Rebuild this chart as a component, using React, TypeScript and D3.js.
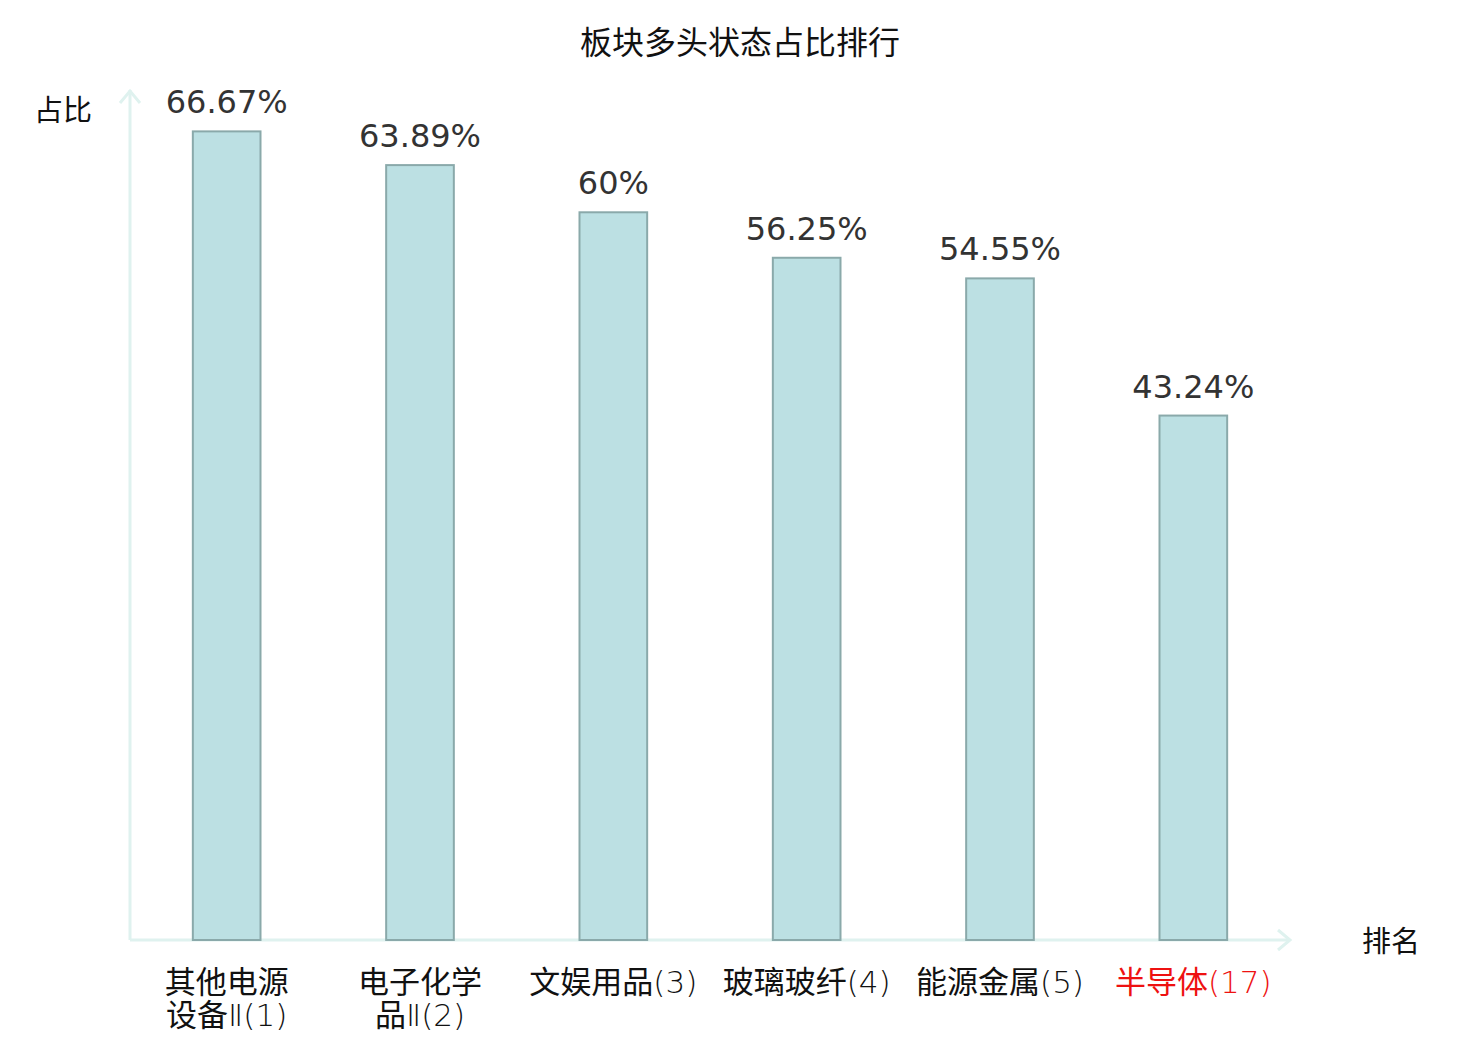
import React, {useEffect, useRef} from 'react';
import * as d3 from 'd3';

const title = '板块多头状态占比排行';
const categories = ['其他电源设备Ⅱ', '电子化学品Ⅱ', '文娱用品', '玻璃玻纤', '能源金属', '半导体'];
const ranks = [1, 2, 3, 4, 5, 17];
const ratios = [66.67, 63.89, 60, 56.25, 54.55, 43.24];
const highlight = '半导体';
const yName = '占比';
const xName = '排名';

const W = 1480;
const H = 1040;
const cjk = '"Noto Sans CJK SC", "Noto Sans", sans-serif';
const latin = '"DejaVu Sans", sans-serif';

// split a line into runs of CJK and non-CJK characters
const runs = (s: string) => s.match(/[\u4e00-\u9fff]+|[^\u4e00-\u9fff]+/g) || [];

const App = () => {
  const svgRef = useRef<SVGSVGElement>(null);

  useEffect(() => {
    const margin = {top: 91, right: 190, bottom: 100, left: 130};
    const svg = d3.select(svgRef.current);
    svg.selectAll('*').remove();

    const x = d3.scaleBand<string>()
      .domain(categories)
      .range([margin.left, W - margin.right])
      .paddingInner(0.65)
      .paddingOuter(0.325);

    const y = d3.scaleLinear()
      .domain([0, 70])
      .range([H - margin.bottom, margin.top]);

    const axisColor = '#dff2ef';
    const y0 = y(0);

    // axes with open arrows
    const axes = svg.append('g')
      .attr('fill', 'none')
      .attr('stroke', axisColor)
      .attr('stroke-width', 3);
    axes.append('path').attr('d', `M${margin.left},${y0}V${margin.top - 1}`);
    axes.append('path').attr('d', `M${margin.left - 10},${margin.top + 12}L${margin.left},${margin.top}L${margin.left + 10},${margin.top + 12}`);
    const xEnd = W - margin.right;
    axes.append('path').attr('d', `M${margin.left},${y0}H${xEnd}`);
    axes.append('path').attr('d', `M${xEnd - 12},${y0 - 10}L${xEnd},${y0}L${xEnd - 12},${y0 + 10}`);

    // bars
    svg.append('g')
      .selectAll('rect')
      .data(categories)
      .join('rect')
      .attr('x', d => x(d) as number)
      .attr('y', (d, i) => y(ratios[i]))
      .attr('width', x.bandwidth())
      .attr('height', (d, i) => y0 - y(ratios[i]))
      .attr('fill', '#bce0e3')
      .attr('stroke', '#8aa9aa')
      .attr('stroke-width', 2);

    // value labels
    svg.append('g')
      .selectAll('text')
      .data(categories)
      .join('text')
      .attr('x', d => (x(d) as number) + x.bandwidth() / 2)
      .attr('y', (d, i) => y(ratios[i]) - 18)
      .attr('text-anchor', 'middle')
      .attr('font-family', latin)
      .attr('font-size', 32)
      .attr('fill', '#333')
      .text((d, i) => `${ratios[i]}%`);

    // category labels, wrapped after four characters
    const labels = svg.append('g')
      .selectAll('g')
      .data(categories)
      .join('g')
      .attr('fill', d => (d === highlight ? '#ee1111' : '#111'));
    labels.each(function (d, i) {
      const lines = d.length > 4 ? [d.slice(0, 4), `${d.slice(4)}(${ranks[i]})`] : [`${d}(${ranks[i]})`];
      const cx = (x(d) as number) + x.bandwidth() / 2;
      const g = d3.select(this);
      lines.forEach((l, j) => {
        const t = g.append('text')
          .attr('x', cx)
          .attr('y', y0 + 53 + j * 33)
          .attr('text-anchor', 'middle')
          .attr('font-size', 31);
        runs(l).forEach(r => {
          const isCjk = /[\u4e00-\u9fff]/.test(r);
          t.append('tspan')
            .attr('font-family', isCjk ? cjk : latin)
            .attr('font-weight', isCjk ? 400 : 200)
            .text(r);
        });
      });
    });

    // title and axis names
    svg.append('text')
      .attr('x', 740)
      .attr('y', 54)
      .attr('text-anchor', 'middle')
      .attr('font-family', cjk)
      .attr('font-size', 32)
      .attr('fill', '#111')
      .text(title);

    svg.append('text')
      .attr('x', 63)
      .attr('y', 121)
      .attr('text-anchor', 'middle')
      .attr('font-family', cjk)
      .attr('font-size', 29)
      .attr('fill', '#111')
      .text(yName);

    svg.append('text')
      .attr('x', 1391)
      .attr('y', 952)
      .attr('text-anchor', 'middle')
      .attr('font-family', cjk)
      .attr('font-size', 29)
      .attr('fill', '#111')
      .text(xName);
  }, []);

  return (
    <svg ref={svgRef} width={W} height={H} style={{display: 'block', margin: -8, background: '#fff'}} />
  );
};

export default App;
